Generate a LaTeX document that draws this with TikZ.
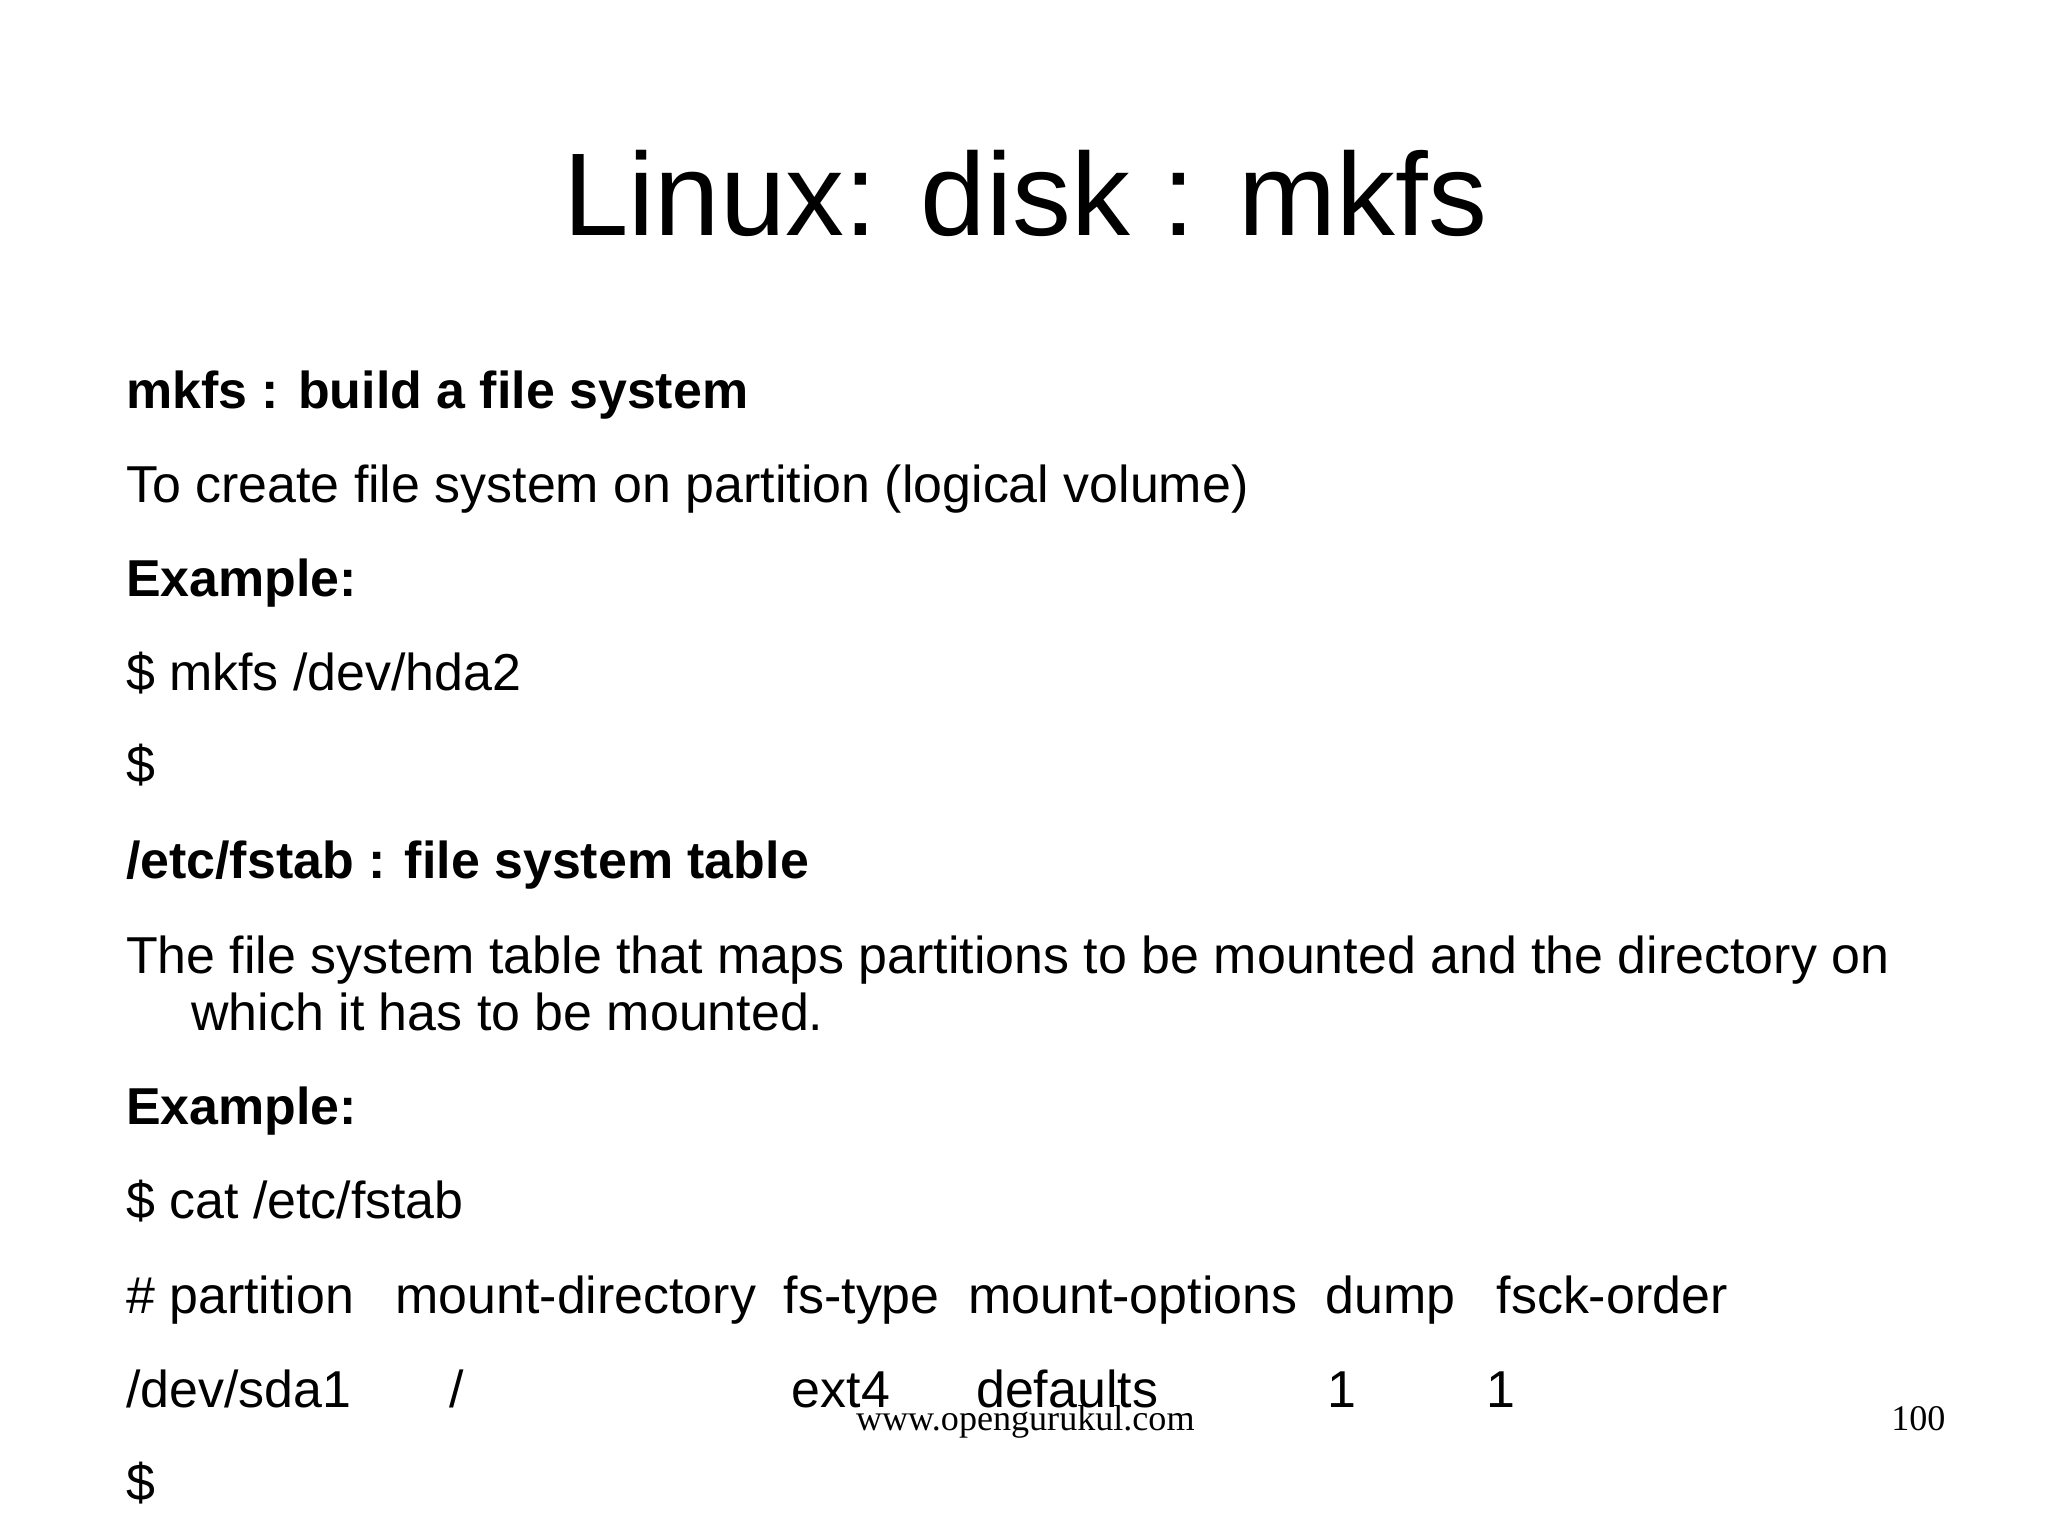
\documentclass[tikz,border=0pt]{standalone}
\usepackage{fontspec}
\setmainfont{Liberation Sans}
\newfontfamily\serifft{Liberation Serif}
\begin{document}
\begin{tikzpicture}[x=0.5pt,y=-0.5pt,
  tx/.style={anchor=base west,inner sep=0pt,font=\fontsize{19.85}{22}\selectfont},
  bx/.style={tx,font=\fontsize{19.85}{22}\selectfont\bfseries}]
\useasboundingbox (0,0) rectangle (1566,1174);
\node[anchor=base,inner sep=0pt,font=\fontsize{45}{52}\selectfont] (title) at (784,180) {Linux: disk : mkfs};
\node[bx] (l1) at (96,312) {mkfs : build a file system};
\node[tx] (l2) at (96,384) {To create file system on partition (logical volume)};
\node[bx] (l3) at (96,456) {Example:};
\node[tx] (l4) at (96,528) {\$ mkfs /dev/hda2};
\node[tx] (l5) at (96,598) {\$};
\node[bx] (l6) at (96,672) {/etc/fstab : file system table};
\node[tx] (l7) at (96,744) {The file system table that maps partitions to be mounted and the directory on};
\node[tx] (l8) at (146,788) {which it has to be mounted.};
\node[bx] (l9) at (96,860) {Example:};
\node[tx] (l10) at (96,932) {\$ cat /etc/fstab};
\node[tx] (h1) at (96,1004) {\# partition};
\node[tx] (h2) at (302,1004) {mount-directory};
\node[tx] (h3) at (599,1004) {fs-type};
\node[tx] (h4) at (740,1004) {mount-options};
\node[tx] (h5) at (1013,1004) {dump};
\node[tx] (h6) at (1144,1004) {fsck-order};
\node[tx] (r1) at (96,1076) {/dev/sda1};
\node[tx] (r2) at (343,1076) {/};
\node[tx] (r3) at (605,1076) {ext4};
\node[tx] (r4) at (746,1076) {defaults};
\node[tx] (r5) at (1015,1076) {1};
\node[tx] (r6) at (1136,1076) {1};
\node[tx] (l11) at (96,1147) {\$};
\node[anchor=base,inner sep=0pt,font=\serifft\fontsize{13.8}{16}\selectfont] (foot) at (784,1094) {www.opengurukul.com};
\node[anchor=base east,inner sep=0pt,font=\serifft\fontsize{13.8}{16}\selectfont] (pg) at (1488,1094) {100};
\end{tikzpicture}
\end{document}
